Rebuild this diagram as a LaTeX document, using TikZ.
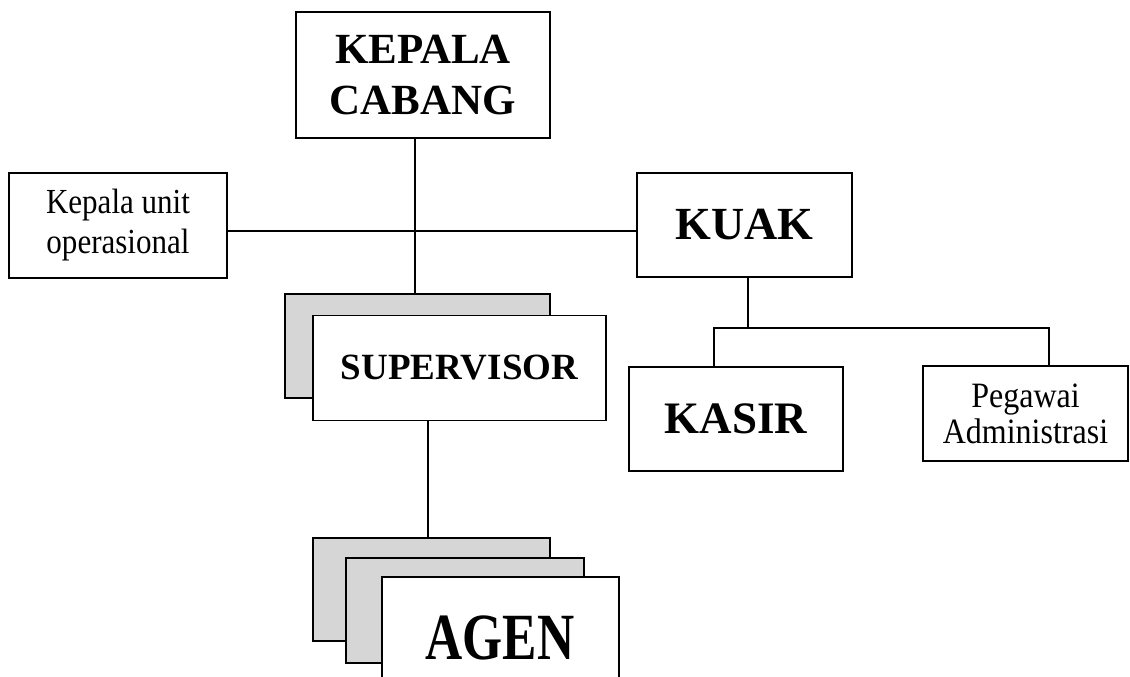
\documentclass[tikz,border=0pt]{standalone}
\usepackage{fontspec}
\setmainfont{Liberation Serif}
\usepackage{graphicx}
\begin{document}
\begin{tikzpicture}[x=1pt,y=-1pt,
  box/.style={draw=black,line width=1.6pt,fill=white,inner sep=0pt,align=center},
  shadowbox/.style={draw=black,line width=1.6pt,fill=black!16,inner sep=0pt},
  conn/.style={draw=black,line width=1.6pt}]
\useasboundingbox (0,0) rectangle (1130,677);
% top
\node[box,minimum width=254pt,minimum height=126pt,
  font=\bfseries\fontsize{43}{51}\selectfont] (cabang) at (423,75) {KEPALA\\CABANG};
\node[box,minimum width=218pt,minimum height=105pt,
  font=\fontsize{32}{40}\selectfont] (unit) at (118,225.5) {\scalebox{0.97}[1.1]{Kepala unit}\\\scalebox{0.97}[1.1]{operasional}};
\node[box,minimum width=215pt,minimum height=104pt,
  font=\bfseries\fontsize{46}{50}\selectfont] (kuak) at (744.5,225) {KUAK};
% supervisor
\node[shadowbox,minimum width=265pt,minimum height=104pt] (supsh) at (417.5,346) {};
\node[box,minimum width=293pt,minimum height=105pt,
  font=\bfseries\fontsize{37}{40}\selectfont] (sup) at (459.5,368) {SUPERVISOR};
% kasir / pegawai
\node[box,minimum width=214pt,minimum height=104pt,
  font=\bfseries\fontsize{45}{50}\selectfont] (kasir) at (736,419) {KASIR};
\node[box,minimum width=205pt,minimum height=95pt,
  font=\fontsize{33}{36}\selectfont] (pegawai) at (1025.5,413.5) {\scalebox{0.97}[1.08]{Pegawai}\\\scalebox{0.97}[1.08]{Administrasi}};
% agen
\node[shadowbox,minimum width=237pt,minimum height=103pt] (agena) at (431.5,589.5) {};
\node[shadowbox,minimum width=238pt,minimum height=105pt] (agenb) at (465,610.5) {};
\node[box,minimum width=237pt,minimum height=104pt] (agen) at (500.5,629) {};
\node[inner sep=0pt,font=\bfseries\fontsize{66}{70}\selectfont] (agent) at (500,638) {\scalebox{0.78}[1]{AGEN}};
% junctions
\coordinate (j1) at (415,231);
\coordinate (j2) at (748,328);
\coordinate (jl) at (714,328);
\coordinate (jr) at (1049,328);
\coordinate (j3) at (428,480);
% connectors
\draw[conn] (cabang.south -| j1) -- (j1 |- supsh.north);
\draw[conn] (unit.east |- j1) -- (kuak.west |- j1);
\draw[conn] (kuak.south -| j2) -- (j2);
\draw[conn] (jl |- kasir.north) -- (jl) -- (jr) -- (jr |- pegawai.north);
\draw[conn] (sup.south -| j3) -- (j3 |- agena.north);
\end{tikzpicture}
\end{document}
